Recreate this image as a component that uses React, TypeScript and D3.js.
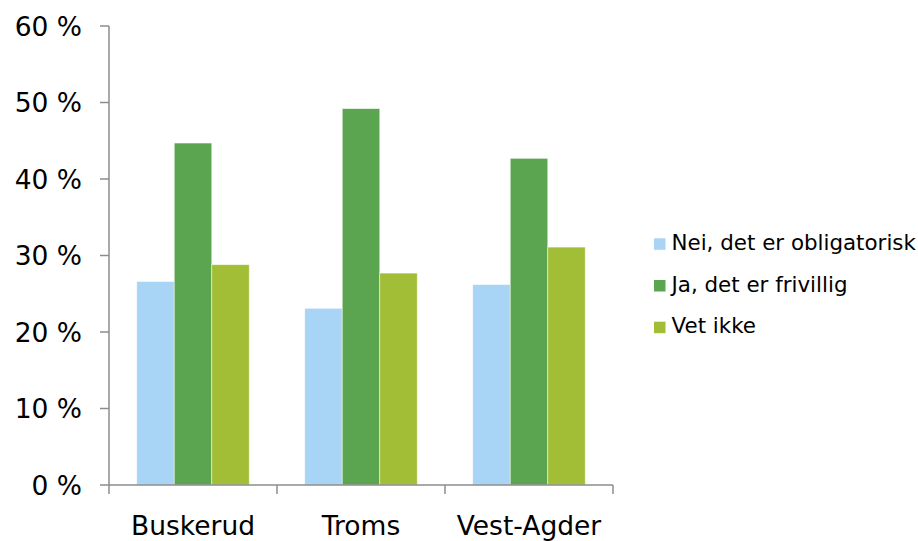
import React from "react";
import * as d3 from "d3";

const categories = ["Buskerud", "Troms", "Vest-Agder"];
const seriesNames = ["Nei, det er obligatorisk", "Ja, det er frivillig", "Vet ikke"];
const nei = [26.6, 23.1, 26.2];
const ja = [44.7, 49.2, 42.7];
const vetIkke = [28.8, 27.7, 31.1];
const yTicks = [0, 10, 20, 30, 40, 50, 60];

const seriesValues = [nei, ja, vetIkke];
const colors = ["#A8D4F5", "#5CA550", "#A2BE37"];

const W = 918;
const H = 541;
const x0 = 109;
const x1 = 613;
const yTop = 26;
const yBot = 485;

export default function App() {
  const x = d3.scaleBand<string>().domain(categories).range([x0, x1]).paddingInner(0).paddingOuter(0);
  const xs = d3
    .scaleBand<number>()
    .domain(seriesNames.map((_, i) => i))
    .range([0, x.bandwidth()])
    .paddingInner(0)
    .paddingOuter(0.74);
  const y = d3.scaleLinear().domain([0, 60]).range([yBot, yTop]);
  const font = "'DejaVu Sans', Verdana, sans-serif";
  const axisColor = "#8C8C8C";
  const bounds = [...categories.map((c) => x(c)!), x1];

  return (
    <svg width={W} height={H} style={{ position: "absolute", left: 0, top: 0 }} fontFamily={font}>
      <rect width={W} height={H} fill="#fff" />
      {categories.map((c, ci) =>
        seriesValues.map((vals, si) => (
          <rect
            key={c + si}
            x={x(c)! + xs(si)!}
            y={y(vals[ci])}
            width={xs.bandwidth()}
            height={yBot - y(vals[ci])}
            fill={colors[si]}
            stroke="#ffffff"
            strokeOpacity={0.6}
            strokeWidth={0.8}
          />
        ))
      )}
      {/* y axis */}
      <line x1={x0} x2={x0} y1={yTop} y2={yBot} stroke={axisColor} strokeWidth={1.5} />
      {yTicks.map((t) => (
        <g key={t}>
          <line x1={x0 - 9} x2={x0} y1={y(t)} y2={y(t)} stroke={axisColor} strokeWidth={1.5} />
          <text x={82} y={y(t) + 9.5} textAnchor="end" fontSize={26.5} fill="#000">
            {t} %
          </text>
        </g>
      ))}
      {/* x axis */}
      <line x1={x0} x2={x1} y1={yBot} y2={yBot} stroke={axisColor} strokeWidth={1.5} />
      {bounds.map((b, i) => (
        <line key={i} x1={b} x2={b} y1={yBot} y2={yBot + 9} stroke={axisColor} strokeWidth={1.5} />
      ))}
      {categories.map((c) => (
        <text key={c} x={x(c)! + x.bandwidth() / 2} y={534.5} textAnchor="middle" fontSize={26.5} fill="#000">
          {c}
        </text>
      ))}
      {/* legend */}
      {seriesNames.map((s, i) => (
        <g key={s} transform={`translate(654, ${250 + i * 41.7})`}>
          <rect x={0} y={-11.7} width={11.5} height={11.5} fill={colors[i]} />
          <text x={17.5} y={0} fontSize={21.4} fill="#000">
            {s}
          </text>
        </g>
      ))}
    </svg>
  );
}
